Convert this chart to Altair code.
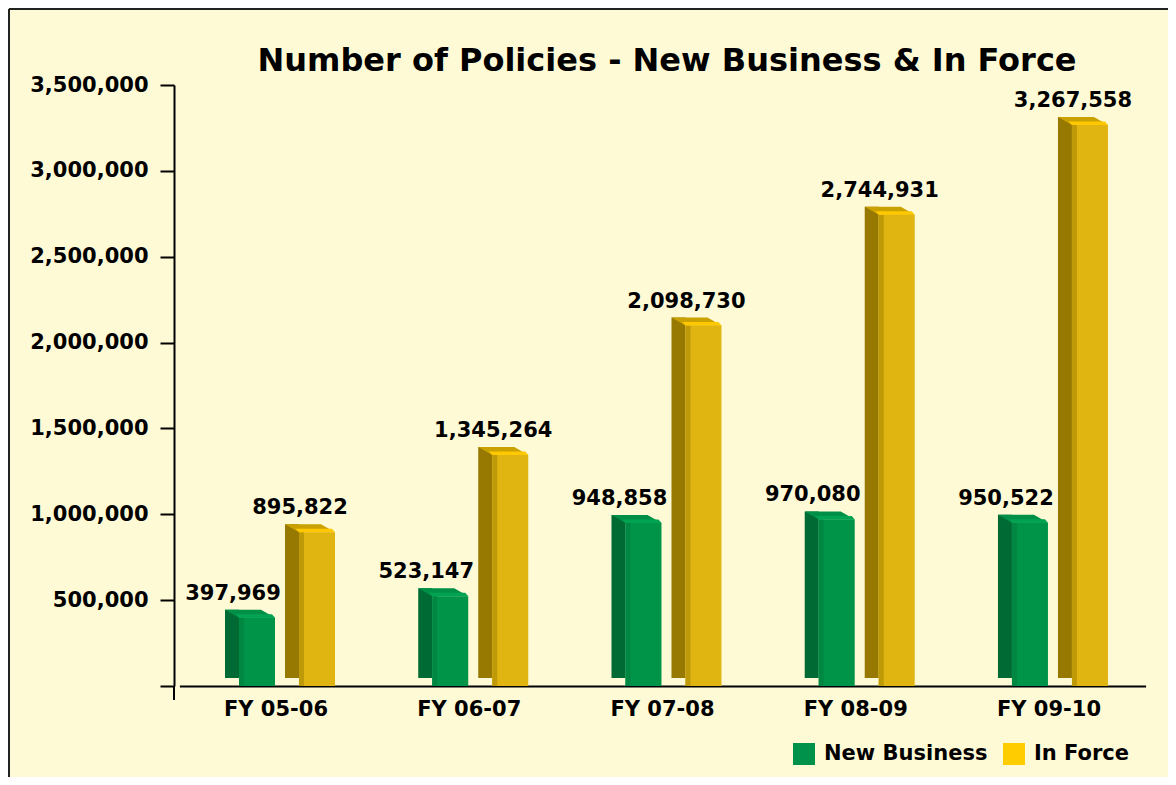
import altair as alt
import pandas as pd

categories = ["FY 05-06", "FY 06-07", "FY 07-08", "FY 08-09", "FY 09-10"]
series = ["New Business", "In Force"]
new_business = [397969, 523147, 948858, 970080, 950522]
in_force = [895822, 1345264, 2098730, 2744931, 3267558]
y_ticks = [0, 500000, 1000000, 1500000, 2000000, 2500000, 3000000, 3500000]
title_text = "Number of Policies - New Business & In Force"

legend_colors = ["#00914A", "#FFCC00"]
side_colors = ["#006A34", "#977800"]
mid_colors = ["#008843", "#BF9A08"]
front_colors = ["#009449", "#E0B511"]
top_colors = ["#008F46", "#C9A100"]
strip_colors = ["#00A352", "#FFC800"]

rows = []
for i, c in enumerate(categories):
    rows.append({"category": c, "series": series[0], "value": new_business[i]})
    rows.append({"category": c, "series": series[1], "value": in_force[i]})
df = pd.DataFrame(rows)

FONT = "DejaVu Sans"
W, H = 986, 601

x_enc = alt.X(
    "category:N", sort=categories,
    scale=alt.Scale(range=[5.4, 971.6], paddingInner=0, paddingOuter=0),
    axis=alt.Axis(title=None, labelAngle=0, ticks=False, domainWidth=2,
                  domainColor="black", labelFont=FONT, labelFontSize=21,
                  labelFontWeight="bold", labelColor="black", labelPadding=12),
)


def xo(shift):
    # sub-band for each series, shifted by a pixel amount for the 3D faces
    return alt.XOffset(
        "series:N", sort=series,
        scale=alt.Scale(type="band", domain=series,
                        range=[40.6 + shift, 160.6 + shift],
                        paddingInner=0, paddingOuter=0),
    )


y_enc = alt.Y(
    "value:Q",
    scale=alt.Scale(domain=[0, 3500000], nice=False),
    axis=alt.Axis(title=None, values=y_ticks,
                  labelExpr="datum.value == 0 ? '' : format(datum.value, ',')",
                  grid=False, tickSize=14, tickWidth=2, tickColor="black",
                  domainWidth=2, domainColor="black", labelFont=FONT,
                  labelFontSize=21, labelFontWeight="bold", labelColor="black",
                  labelPadding=12),
)


def col(rng, legend=None):
    return alt.Color("series:N", sort=series,
                     scale=alt.Scale(domain=series, range=rng), legend=legend)


base = alt.Chart(df)

legend_layer = base.mark_square(opacity=0, size=100).encode(
    x=x_enc, xOffset=xo(0), y=alt.value(590),
    color=col(legend_colors, alt.Legend(
        title=None, orient="none", legendX=619, legendY=658,
        direction="horizontal", symbolType="square", symbolSize=484,
        symbolStrokeWidth=0, symbolOpacity=1, labelFont=FONT,
        labelFontSize=21, labelFontWeight="bold", labelColor="black",
        labelOffset=9, columnPadding=15, padding=0, labelLimit=0)),
)

side = base.mark_bar(width=14, yOffset=-8, y2Offset=-4).encode(
    x=x_enc, xOffset=xo(-18), y=y_enc, color=col(side_colors))
front = base.mark_bar(width=36).encode(
    x=x_enc, xOffset=xo(7), y=y_enc, color=col(front_colors))
mid = base.mark_bar(width=5).encode(
    x=x_enc, xOffset=xo(-8.5), y=y_enc, color=col(mid_colors))
top = base.mark_point(shape="M -0.44 0 L 1 0 L 0.44 -0.32 L -1 -0.32 Z",
                      size=2500, filled=True, opacity=1, strokeWidth=0).encode(
    x=x_enc, xOffset=xo(0), y=y_enc, color=col(top_colors))
strip = base.mark_point(shape="M -0.44 0 L 1 0 L 0.88 -0.14 L -0.58 -0.14 Z",
                        size=2500, filled=True, opacity=1, strokeWidth=0).encode(
    x=x_enc, xOffset=xo(0), y=y_enc, color=col(strip_colors))

lab_nb = base.transform_filter(alt.datum.series == series[0]).mark_text(
    dy=-18, baseline="alphabetic", font=FONT, fontSize=21,
    fontWeight="bold", color="black").encode(
    x=x_enc, xOffset=xo(-17), y=y_enc, text=alt.Text("value:Q", format=","))
lab_if = base.transform_filter(alt.datum.series == series[1]).mark_text(
    dy=-18, baseline="alphabetic", font=FONT, fontSize=21,
    fontWeight="bold", color="black").encode(
    x=x_enc, xOffset=xo(-10), y=y_enc, text=alt.Text("value:Q", format=","))

title = alt.Chart(pd.DataFrame({"t": [title_text]})).mark_text(
    font=FONT, fontSize=32, fontWeight="bold", color="black",
    baseline="alphabetic", align="center").encode(
    x=alt.value(W / 2), y=alt.value(-14), text="t:N")

frame_df = pd.DataFrame({"k": [0]})
frame_left = alt.Chart(frame_df).mark_rule(color="#222222", strokeWidth=2).encode(
    x=alt.value(-165), y=alt.value(-76), y2=alt.value(H + 91))
frame_top = alt.Chart(frame_df).mark_rule(color="#222222", strokeWidth=2).encode(
    x=alt.value(-165), x2=alt.value(W + 8), y=alt.value(-76))
yext = alt.Chart(frame_df).mark_rule(color="black", strokeWidth=2).encode(
    x=alt.value(0), y=alt.value(H), y2=alt.value(H + 14))

chart = alt.layer(
    legend_layer, side, front, mid, top, strip, lab_nb, lab_if, title,
    frame_left, frame_top, yext
).resolve_scale(color="independent", xOffset="independent").properties(
    width=W, height=H,
    autosize=alt.AutoSizeParams(type="none"),
    padding={"left": 166, "top": 77, "right": 8, "bottom": 91},
    background="#FFFAD6",
).configure_view(stroke=None)

chart.save("out.html", embed_options={"renderer": "svg", "actions": False})
